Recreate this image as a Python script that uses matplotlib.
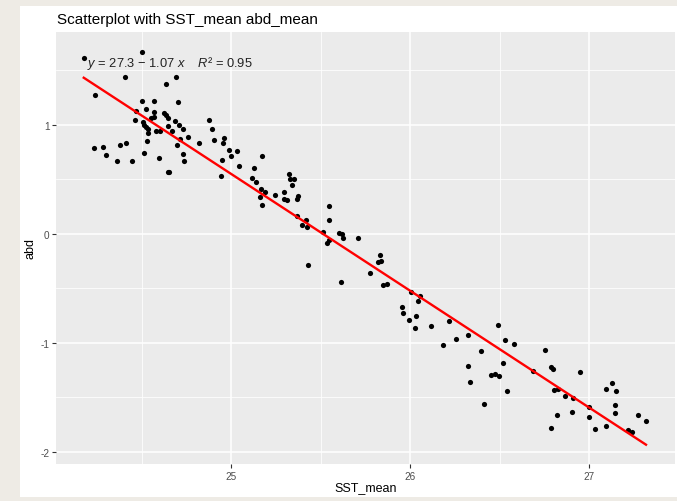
#Scatterplot with SST_mean abd_mean

import numpy as np
import matplotlib
matplotlib.use('Agg')
from matplotlib import pyplot as plt
from matplotlib.patches import Rectangle

plt.rcParams['font.family']=['Liberation Sans','DejaVu Sans']
plt.rcParams['mathtext.fontset']='custom'
plt.rcParams['mathtext.rm']='Liberation Sans'
plt.rcParams['mathtext.it']='Liberation Sans:italic'
plt.rcParams['axes.unicode_minus']=False

sst_mean=[24.177,24.504,24.408,24.694,24.635,24.242,24.702,24.505,24.570,24.523,
          24.468,24.571,24.623,24.639,24.553,24.570,24.461,24.507,24.688,24.649,
          24.515,24.526,24.536,24.711,24.646,24.732,24.757,24.583,24.602,24.536,
          24.532,24.716,24.699,24.733,24.237,24.286,24.301,24.381,24.412,24.512,
          24.596,24.363,24.445,24.737,24.645,24.654,24.670,
          24.823,24.874,24.895,24.905,24.955,24.962,24.947,24.946,24.987,24.997,25.034,25.046,
          25.130,25.172,25.116,25.138,25.166,25.187,25.163,25.172,25.248,25.293,25.293,25.312,
          25.326,25.330,25.354,25.343,25.374,25.370,25.368,25.416,25.398,25.422,25.427,
          25.546,25.546,25.514,25.536,25.549,25.603,25.622,25.626,25.709,25.616,
          25.834,25.820,25.836,25.775,25.849,25.869,26.006,26.055,26.047,25.954,25.958,
          26.031,25.994,26.115,26.026,26.216,26.490,26.324,26.259,26.184,26.397,26.531,
          26.578,26.518,26.322,26.335,26.453,26.474,26.497,26.412,26.542,26.687,26.755,
          26.787,26.800,26.804,26.824,26.863,26.909,26.820,26.790,26.902,26.950,27.002,
          26.999,27.032,27.096,27.126,27.151,27.145,27.147,27.097,27.219,27.240,27.271,27.318]

abd_mean=[1.612,1.671,1.437,1.442,1.380,1.276,1.212,1.221,1.221,1.148,
          1.125,1.120,1.109,1.090,1.068,1.077,1.047,1.027,1.036,1.061,
          0.998,0.978,0.960,0.998,0.989,0.960,0.893,0.943,0.941,0.926,
          0.857,0.872,0.813,0.733,0.792,0.794,0.725,0.815,0.836,0.739,
          0.701,0.668,0.668,0.666,0.567,0.567,0.941,
          0.833,1.047,0.964,0.860,0.834,0.877,0.682,0.531,0.774,0.713,0.757,0.626,
          0.604,0.719,0.510,0.475,0.409,0.388,0.335,0.264,0.358,0.388,0.321,0.315,
          0.551,0.502,0.503,0.448,0.352,0.317,0.165,0.126,0.083,0.062,-0.282,
          0.254,0.124,0.016,-0.081,-0.060,0.007,0.000,-0.037,-0.037,-0.438,
          -0.190,-0.259,-0.251,-0.358,-0.470,-0.464,-0.530,-0.571,-0.612,-0.673,-0.724,
          -0.756,-0.787,-0.842,-0.866,-0.803,-0.836,-0.930,-0.967,-1.022,-1.072,-0.975,
          -1.010,-1.185,-1.215,-1.359,-1.299,-1.286,-1.307,-1.564,-1.440,-1.261,-1.065,
          -1.226,-1.242,-1.434,-1.425,-1.492,-1.508,-1.660,-1.781,-1.632,-1.264,-1.586,
          -1.679,-1.791,-1.421,-1.365,-1.442,-1.567,-1.644,-1.763,-1.798,-1.814,-1.664,-1.717]

x_ticks=[25,26,27]
y_ticks=[-2,-1,0,1]
eq_label='$y$ = 27.3 − 1.07 $x$    $R$² = 0.95'

x=np.array(sst_mean)
y=np.array(abd_mean)
slope,intercept=np.polyfit(x,y,1)
xs=np.array([x.min(),x.max()])

fig=plt.figure(figsize=(6.77,5.02),dpi=100)
fig.patch.set_facecolor('#EEEBE5')
# white card inside the grey frame
fig.patches.append(Rectangle((20/677,4/502),1-20/677,(502-7-4)/502,transform=fig.transFigure,
                             facecolor='white',edgecolor='none',zorder=-10))

ax=fig.add_axes([56/677,37/502,619/677,432/502])
ax.set_facecolor('#EBEBEB')
for s in ax.spines.values():
    s.set_visible(False)

ax.set_xlim(24.022,27.48)
ax.set_ylim(-2.112,1.853)
ax.set_xticks(x_ticks)
ax.set_yticks(y_ticks)
ax.set_xticks([24.5,25.5,26.5],minor=True)
ax.set_yticks([-1.5,-0.5,0.5,1.5],minor=True)
ax.grid(which='major',color='white',linewidth=1.1)
ax.grid(which='minor',color='white',linewidth=0.55)
ax.set_axisbelow(True)
ax.tick_params(which='major',length=2.7,width=0.8,color='#333333',labelcolor='#4D4D4D',labelsize=7.2,pad=2)
ax.tick_params(which='minor',length=0)

ax.scatter(x,y,s=14,color='black',linewidths=0,zorder=3)
ax.plot(xs,intercept+slope*xs,color='red',linewidth=1.7,zorder=4)

ax.text(0.050,0.930,eq_label,transform=ax.transAxes,fontsize=9.3,color='#222222',
        ha='left',va='center',zorder=5)

ax.set_xlabel('SST_mean',fontsize=9)
ax.set_ylabel('abd',fontsize=9)
ax.xaxis.set_label_coords(0.5,-0.039)
ax.yaxis.set_label_coords(-0.032,0.5)
fig.text(57/677,1-20/502,'Scatterplot with SST_mean abd_mean',fontsize=11,ha='left',va='center')

fig.savefig('out.png',dpi=100,facecolor=fig.get_facecolor())
